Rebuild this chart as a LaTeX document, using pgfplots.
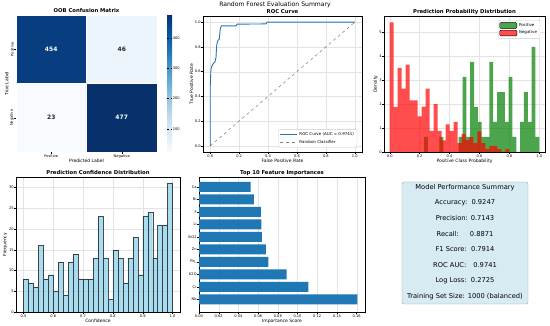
\documentclass[border=0pt]{standalone}
\usepackage{pgfplots}
\pgfplotsset{compat=1.18}
\usepackage{fontspec}
\setmainfont{DejaVu Sans}
\definecolor{tabblue}{RGB}{31,119,180}
\definecolor{skyb}{RGB}{135,206,235}
\definecolor{mplgreen}{RGB}{0,128,0}
\definecolor{boxfill}{RGB}{214,235,242}
\pgfplotsset{
  colormap={mplblues}{rgb255=(247,251,255) rgb255=(222,235,247) rgb255=(198,219,239) rgb255=(158,202,225) rgb255=(107,174,214) rgb255=(66,146,198) rgb255=(33,113,181) rgb255=(8,81,156) rgb255=(8,48,107)},
  every axis title/.style={at={(0.5,1)}, anchor=base, yshift=2.4pt, inner sep=0pt, font=\fontsize{5.3}{6}\selectfont\bfseries},
  base/.style={scale only axis, anchor=south west,
    axis line style={line width=0.4pt},
    tick style={line width=0.3pt, black},
    tick align=outside, major tick length=1.6pt, tick pos=left,
    ticklabel style={font=\fontsize{3.6}{4}\selectfont, inner sep=0.6pt},
    label style={font=\fontsize{4.5}{5}\selectfont, inner sep=0.8pt},
    /pgf/number format/assume math mode=true,
    grid style={gray!22, line width=0.25pt}
  }
}
\begin{document}
\begin{tikzpicture}
\useasboundingbox (0,0) rectangle (550pt,326pt);
\fill[white] (0,0) rectangle (550pt,326pt);
\node[font=\fontsize{6.1}{7}\selectfont, anchor=base, inner sep=0pt] at (275pt,319pt) {Random Forest Evaluation Summary};

% ---------- Confusion matrix
\begin{axis}[base, at={(16pt,174pt)}, width=141pt, height=137pt,
  colormap name=mplblues,
  xmin=-0.5, xmax=1.5, ymin=-0.5, ymax=1.5, y dir=reverse,
  xtick={0,1}, xticklabels={Positive,Negative},
  ytick={0,1}, yticklabels={Positive,Negative},
  yticklabel style={rotate=90, anchor=south},
  axis line style={draw=none},
  xlabel={Predicted Label}, ylabel={True Label},
  title={OOB Confusion Matrix},
  point meta min=23, point meta max=477,
  colorbar,
  colorbar style={at={(parent axis.north east)}, anchor=north west, xshift=1.5pt,
    width=5pt, scale only axis, ytick={100,200,300,400},
    axis line style={draw=none}, tick style={line width=0.3pt, black},
    major tick length=1.5pt,
    yticklabel style={font=\fontsize{3.6}{4}\selectfont, inner sep=0.6pt},
    /pgf/number format/assume math mode=true}]
\addplot[matrix plot*, mesh/cols=2, point meta=explicit, draw=white, line width=0.4pt] table[meta=c] {
x y c
0 0 454
1 0 46
0 1 23
1 1 477
};
\addplot[only marks, mark=none, nodes near coords, point meta=explicit symbolic,
  nodes near coords style={font=\fontsize{6}{7}\selectfont\bfseries, white, anchor=center}] table[meta=c] {
x y c
0 0 454
1 1 477
};
\addplot[only marks, mark=none, nodes near coords, point meta=explicit symbolic,
  nodes near coords style={font=\fontsize{6}{7}\selectfont\bfseries, black!85, anchor=center}] table[meta=c] {
x y c
1 0 46
0 1 23
};
\end{axis}

% ---------- ROC
\begin{axis}[base, at={(203pt,174pt)}, width=159pt, height=136pt,
  xmin=-0.05, xmax=1.05, ymin=-0.05, ymax=1.05,
  xtick={0,0.2,0.4,0.6,0.8,1}, ytick={0,0.2,0.4,0.6,0.8,1},
  xticklabel style={/pgf/number format/.cd, fixed, fixed zerofill, precision=1},
  yticklabel style={/pgf/number format/.cd, fixed, fixed zerofill, precision=1},
  grid=major,
  xlabel={False Positive Rate}, ylabel={True Positive Rate},
  title={ROC Curve},
  legend pos=south east,
  legend style={font=\fontsize{4}{4.5}\selectfont, draw=gray!40, rounded corners=1pt, inner sep=1pt, row sep=-1pt},
  legend cell align=left]
\addplot[tabblue, line width=0.9pt] coordinates {
(0,0)(0,0.475)(0.004,0.6)(0.007,0.63)(0.012,0.645)(0.022,0.666)(0.033,0.68)(0.04,0.715)(0.044,0.8)(0.047,0.83)(0.055,0.856)(0.062,0.86)(0.07,0.95)(0.077,0.97)(0.177,0.97)(0.188,0.984)(0.386,0.986)(0.393,1.0)(1,1)};
\addlegendentry{ROC Curve (AUC = 0.9741)}
\addplot[black, opacity=0.5, dashed, line width=0.5pt] coordinates {(0,0)(1,1)};
\addlegendentry{Random Classifier}
\end{axis}

% ---------- Probability distribution
\begin{axis}[base, at={(384pt,174pt)}, width=161pt, height=136pt,
  xmin=-0.038, xmax=1.038, ymin=0, ymax=5.69,
  xtick={0,0.2,0.4,0.6,0.8,1}, ytick={0,1,2,3,4,5},
  xticklabel style={/pgf/number format/.cd, fixed, fixed zerofill, precision=1},
  grid=major,
  xlabel={Positive Class Probability}, ylabel={Density},
  title={Prediction Probability Distribution},
  legend pos=north east,
  legend style={font=\fontsize{4}{4.5}\selectfont, draw=gray!40, rounded corners=1pt, inner sep=1pt, row sep=-1pt},
  legend cell align=left]
\addplot[ybar interval, fill=mplgreen, fill opacity=0.7, draw=none, area legend] coordinates {
(0.23000,0.63)(0.25567,0)(0.28133,0)(0.30700,0)(0.33267,0.63)(0.35833,0)(0.38400,0)(0.40967,0)(0.43533,0)(0.46100,0.63)
(0.48667,3.14)(0.51233,0.63)(0.53800,3.77)(0.56367,1.88)(0.58933,1.26)(0.61500,0.63)(0.64067,0.63)(0.66633,3.77)(0.69200,1.26)(0.71767,2.51)
(0.74333,2.51)(0.76900,1.26)(0.79467,3.14)(0.82033,0.63)(0.84600,0)(0.87167,1.26)(0.89733,2.51)(0.92300,1.26)(0.94867,4.40)(0.97433,0.63)(1.0,0.63)};
\addlegendentry{Positive}
\addplot[ybar interval, fill=red, fill opacity=0.7, draw=none, area legend] coordinates {
(0.00000,5.42)(0.02667,1.89)(0.05333,3.52)(0.08000,2.65)(0.10667,3.66)(0.13333,2.16)(0.16000,2.16)(0.18667,1.49)(0.21333,1.90)(0.24000,2.65)
(0.26667,0.88)(0.29333,2.00)(0.32000,0.88)(0.34667,0.49)(0.37333,1.16)(0.40000,0.88)(0.42667,1.26)(0.45333,0.37)(0.48000,0.75)(0.50667,0.50)
(0.53333,0.62)(0.56000,0.37)(0.58667,0.86)(0.61333,0.37)(0.64000,0.12)(0.66667,0.25)(0.69333,0.25)(0.72000,0.12)(0.74667,0)(0.77333,0.12)(0.8,0.12)};
\addlegendentry{Negative}
\end{axis}

% ---------- Confidence distribution
\begin{axis}[base, at={(16pt,14pt)}, width=164pt, height=135pt,
  xmin=0.475, xmax=1.025, ymin=0, ymax=32.55,
  xtick={0.5,0.6,0.7,0.8,0.9,1}, ytick={0,5,10,15,20,25,30},
  xticklabel style={/pgf/number format/.cd, fixed, fixed zerofill, precision=1},
  grid=major,
  xlabel={Confidence}, ylabel={Frequency},
  title={Prediction Confidence Distribution}]
\addplot[ybar interval, fill=skyb, fill opacity=0.7, draw=black, draw opacity=0.7, line width=0.3pt] coordinates {
(0.50000,8)(0.51667,7)(0.53333,6)(0.55000,16)(0.56667,8)(0.58333,9)(0.60000,5)(0.61667,12)(0.63333,4)(0.65000,12)
(0.66667,14)(0.68333,8)(0.70000,8)(0.71667,8)(0.73333,13)(0.75000,23)(0.76667,13)(0.78333,3)(0.80000,15)(0.81667,13)
(0.83333,7)(0.85000,13)(0.86667,18)(0.88333,9)(0.90000,23)(0.91667,24)(0.93333,13)(0.95000,21)(0.96667,21)(0.98333,31)(1.0,31)};
\end{axis}

% ---------- Feature importances
\begin{axis}[base, at={(199pt,14pt)}, width=166pt, height=135pt,
  xbar, bar width=0.8,
  xmin=0, xmax=0.1685, ymin=-1.0, ymax=9.8,
  xtick={0,0.02,0.04,0.06,0.08,0.10,0.12,0.14,0.16},
  xticklabel style={/pgf/number format/.cd, fixed, fixed zerofill, precision=2},
  ytick={0,1,2,3,4,5,6,7,8,9},
  yticklabels={Nb,Cr,K2O,Pb\_,Zn,SiO2,Li,F,Ni,Ca},
  xmajorgrids,
  xlabel={Importance Score},
  title={Top 10 Feature Importances}]
\addplot[fill=tabblue, draw=none] coordinates {
(0.1607,0)(0.111,1)(0.089,2)(0.0704,3)(0.068,4)(0.0639,5)(0.0633,6)(0.0629,7)(0.0558,8)(0.0524,9)};
\end{axis}

% ---------- Summary box
\draw[gray!70, line width=0.4pt, fill=boxfill, rounded corners=2pt] (402pt,22pt) rectangle (528pt,144pt);
\node[align=center, font=\fontsize{6.7}{15.6}\selectfont] at (465pt,84pt) {%
Model Performance Summary\\
Accuracy:\ \ 0.9247\\
Precision: 0.7143\\
Recall:\hspace{11pt}0.8871\\
F1 Score:\ \ 0.7914\\
ROC AUC:\hspace{7pt}0.9741\\
Log Loss:\ \ 0.2725\\
Training Set Size: 1000 (balanced)};
\end{tikzpicture}
\end{document}
